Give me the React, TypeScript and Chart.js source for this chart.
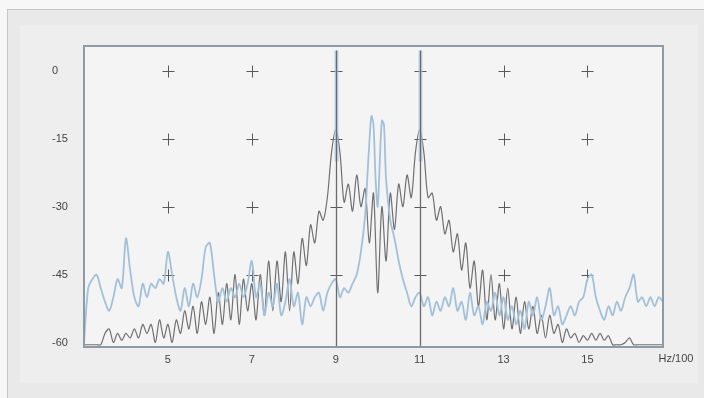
import React, { useEffect, useRef } from "react";
import { Chart, registerables } from "chart.js";

Chart.register(...registerables);

// Frequency axis (Hz/100)
const freqStart = 3.0;
const freqStep = 0.1;

// Two-tone test spectrum (dark trace), dB, sampled every 0.1 from 3.0 to 16.8
const twoToneDb = [
  -60.5, -60.5, -60.5, -60.5, -60.5, -58, -57, -60, -58, -59.5,
  -58, -59, -57, -59, -56, -58, -56, -60, -55, -59,
  -56, -60, -55, -58, -53, -57, -52, -58, -51, -56,
  -50, -58, -49, -56, -47, -55, -45, -56, -46, -53,
  -47, -55, -45, -54, -42, -53, -42, -51, -40, -53,
  -40, -47, -37, -43, -34, -38, -31, -33, -28, -18,
  -13, -18, -29, -25, -31, -23, -30, -26, -38, -27,
  -49, -30, -42, -27, -35, -25, -30, -23, -28, -18,
  -13, -18, -28, -27, -33, -30, -36, -33, -40, -36,
  -44, -38, -48, -42, -52, -44, -55, -45, -55, -47,
  -57, -48, -57, -50, -58, -51, -57, -52, -58, -54,
  -59, -54, -58, -56, -60, -57, -59, -58, -60, -58.5,
  -59.5, -58, -59.5, -58, -59.5, -58.5, -60.5, -60.5, -60.5, -60,
  -59, -60.5, -60.5, -60.5, -60.5, -60.5, -60.5, -60.5, -60.5,
];

// Noise / intermodulation trace (light blue)
const noiseFreq = [
  3.0, 3.1, 3.2, 3.3, 3.4, 3.5, 3.6, 3.7, 3.8, 3.9,
  4.0, 4.1, 4.2, 4.3, 4.4, 4.5, 4.6, 4.7, 4.8, 4.9,
  5.0, 5.1, 5.2, 5.3, 5.4, 5.5, 5.6, 5.7, 5.8, 5.9,
  6.0, 6.1, 6.2, 6.3, 6.4, 6.5, 6.6, 6.7, 6.8, 6.9,
  7.0, 7.1, 7.2, 7.3, 7.4, 7.5, 7.6, 7.7, 7.8, 7.9,
  8.0, 8.1, 8.2, 8.3, 8.4, 8.5, 8.6, 8.7, 8.8, 8.9,
  9.0, 9.1, 9.2, 9.3, 9.4, 9.5, 9.6, 9.7, 9.75, 9.8,
  9.85, 9.9, 9.95, 10.0, 10.05, 10.1, 10.15, 10.2, 10.3, 10.4,
  10.5, 10.6, 10.7, 10.8, 10.9, 11.0, 11.1, 11.2, 11.3, 11.4,
  11.5, 11.6, 11.7, 11.8, 11.9, 12.0, 12.1, 12.2, 12.3, 12.4,
  12.5, 12.6, 12.7, 12.8, 12.9, 13.0, 13.1, 13.2, 13.3, 13.4,
  13.5, 13.6, 13.7, 13.8, 13.9, 14.0, 14.1, 14.2, 14.3, 14.4,
  14.5, 14.6, 14.7, 14.8, 14.9, 15.0, 15.1, 15.2, 15.3, 15.4,
  15.5, 15.6, 15.7, 15.8, 15.9, 16.0, 16.1, 16.2, 16.3, 16.4,
  16.5, 16.6, 16.7, 16.8,
];
const noiseDb = [
  -60, -48, -46, -45, -48, -51, -53, -50, -46, -48,
  -37, -44, -50, -52, -47, -50, -47, -48, -46, -47,
  -40, -45, -50, -53, -48, -52, -47, -50, -46, -39,
  -38, -45, -51, -48, -51, -48, -50, -47, -50, -47,
  -42, -50, -47, -54, -49, -52, -47, -54, -51, -46,
  -52, -49, -56, -50, -52, -50, -49, -53, -49, -47,
  -46, -50, -48, -49, -47, -45, -40, -32, -24, -16,
  -10, -12, -24, -30, -20, -11, -12, -24, -33, -37,
  -42, -46, -49, -52, -50, -49, -52, -50, -54, -51,
  -53, -50, -52, -48, -53, -51, -55, -49, -54, -52,
  -56, -51, -53, -49, -54, -50, -55, -52, -56, -53,
  -57, -51, -54, -50, -55, -52, -48, -54, -52, -56,
  -54, -52, -54, -51, -50, -46, -45, -50, -53, -55,
  -52, -54, -51, -53, -50, -48, -45, -51, -50, -52,
  -50, -52, -50, -51,
];

// Carrier tones (vertical spikes)
const carrierFreq = [9, 11];
const carrierTopDb = 4.5;

const xTicks = [5, 7, 9, 11, 13, 15];
const yTicks = [0, -15, -30, -45, -60];
const unitLabel = "Hz/100";

const FONT = "'Liberation Sans Narrow', 'Liberation Sans', Arial, sans-serif";

export default function App() {
  const ref = useRef<HTMLCanvasElement>(null);

  useEffect(() => {
    const canvas = ref.current;
    if (!canvas) return;

    const darkData = twoToneDb.map((v, i) => ({
      x: +(freqStart + i * freqStep).toFixed(2),
      y: v,
    }));
    const blueData = noiseFreq.map((f, i) => ({ x: f, y: noiseDb[i] }));

    const decor = {
      id: "decor",
      beforeDatasetsDraw(chart: any) {
        const { ctx, chartArea: a, scales } = chart;
        ctx.save();
        ctx.fillStyle = "#f4f4f4";
        ctx.fillRect(a.left, a.top, a.right - a.left, a.bottom - a.top);
        // crosses
        ctx.strokeStyle = "#5a5a5a";
        ctx.lineWidth = 1;
        for (const xv of xTicks) {
          for (const yv of yTicks) {
            if (yv === -60) continue;
            const px = Math.round(scales.x.getPixelForValue(xv)) + 0.5;
            const py = Math.round(scales.y.getPixelForValue(yv)) + 0.5;
            ctx.beginPath();
            ctx.moveTo(px - 6, py);
            ctx.lineTo(px + 6, py);
            ctx.moveTo(px, py - 6);
            ctx.lineTo(px, py + 6);
            ctx.stroke();
          }
        }
        ctx.restore();
      },
      afterDatasetsDraw(chart: any) {
        const { ctx, chartArea: a, scales } = chart;
        ctx.save();
        for (const f of carrierFreq) {
          const px = Math.round(scales.x.getPixelForValue(f)) + 0.5;
          const top = scales.y.getPixelForValue(carrierTopDb);
          ctx.strokeStyle = "rgba(170,198,224,0.7)";
          ctx.lineWidth = 4;
          ctx.beginPath();
          ctx.moveTo(px, top);
          ctx.lineTo(px, scales.y.getPixelForValue(-20));
          ctx.stroke();
          ctx.strokeStyle = "#6a6a6a";
          ctx.lineWidth = 1.3;
          ctx.beginPath();
          ctx.moveTo(px, top);
          ctx.lineTo(px, a.bottom);
          ctx.stroke();
        }
        // plot frame
        ctx.strokeStyle = "#8e9aa6";
        ctx.lineWidth = 2;
        ctx.strokeRect(a.left, a.top, a.right - a.left, a.bottom - a.top);
        // unit label
        ctx.fillStyle = "#444444";
        ctx.font = `11px ${FONT}`;
        ctx.textAlign = "center";
        ctx.textBaseline = "middle";
        ctx.fillText(unitLabel, 676, 359);
        ctx.restore();
      },
    };

    const chart = new Chart(canvas, {
      type: "line",
      data: {
        datasets: [
          {
            label: "noise",
            data: blueData,
            borderColor: "#a3c0da",
            borderWidth: 1.8,
            pointRadius: 0,
            tension: 0.3,
          },
          {
            label: "two-tone",
            data: darkData,
            borderColor: "#707070",
            borderWidth: 1.2,
            pointRadius: 0,
            tension: 0.3,
          },
        ],
      },
      options: {
        animation: false,
        responsive: false,
        maintainAspectRatio: false,
        layout: { padding: { left: 52, top: 46, right: 41, bottom: 0 } },
        plugins: { legend: { display: false }, tooltip: { enabled: false } },
        scales: {
          x: {
            type: "linear",
            min: 3,
            max: 16.8,
            grid: { display: false, drawTicks: false },
            border: { display: false },
            afterBuildTicks: (s: any) => {
              s.ticks = xTicks.map((v) => ({ value: v }));
            },
            afterFit: (s: any) => {
              s.height = 51;
            },
            ticks: {
              color: "#444444",
              font: { family: FONT, size: 11 },
              padding: 6,
              maxRotation: 0,
              autoSkip: false,
            },
          },
          y: {
            type: "linear",
            min: -61,
            max: 5.5,
            grid: { display: false, drawTicks: false },
            border: { display: false },
            afterBuildTicks: (s: any) => {
              s.ticks = yTicks.map((v) => ({ value: v }));
            },
            afterFit: (s: any) => {
              s.width = 32;
            },
            ticks: {
              color: "#444444",
              font: { family: FONT, size: 11 },
              crossAlign: "far",
              padding: 4,
            },
          },
        },
      },
      plugins: [decor],
    });

    return () => chart.destroy();
  }, []);

  return (
    <div style={{ position: "fixed", left: 0, top: 0, width: 704, height: 398, background: "#f7f7f7", overflow: "hidden" }}>
      <div style={{ position: "absolute", left: 7, top: 9, width: 720, height: 420, border: "1px solid #c6c6c6", background: "#e9e9e9" }} />
      <div style={{ position: "absolute", left: 20, top: 25, width: 678, height: 358, background: "#eeeeee" }} />
      <canvas ref={ref} width={704} height={398} style={{ position: "absolute", left: 0, top: 0, width: 704, height: 398 }} />
    </div>
  );
}
